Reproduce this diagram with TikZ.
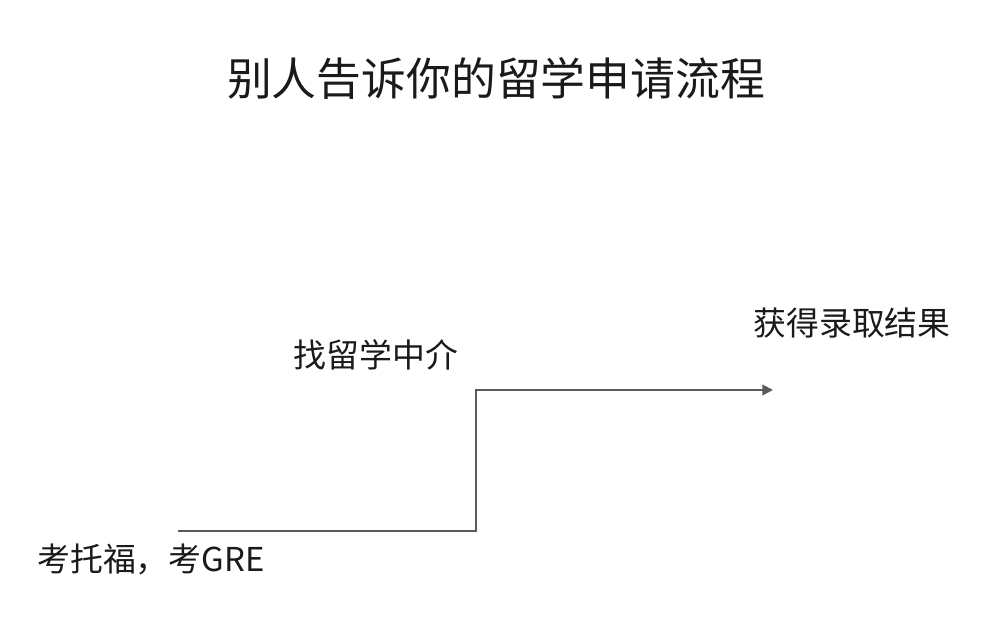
\documentclass[tikz,border=0pt]{standalone}
\usepackage{fontspec}
\setmainfont{Noto Sans CJK SC}
\usetikzlibrary{arrows.meta}
\definecolor{linegray}{HTML}{5A5A5A}
\definecolor{txt}{HTML}{1A1A1A}
\tikzset{
  title/.style={inner sep=0pt, text=txt, font=\fontsize{25.5}{30}\selectfont},
  label/.style={inner sep=0pt, text=txt, font=\fontsize{18.7}{22}\selectfont},
  flow/.style={draw=linegray, line width=1.1pt, -{Triangle[length=6pt,width=6pt]}}
}
\begin{document}
\begin{tikzpicture}
\useasboundingbox[fill=white] (0,0) rectangle (20,12.48);
\node[title] (t) at (9.92,10.92) {别人告诉你的留学申请流程};
\node[label] (zj) at (7.52,5.38) {找留学中介};
\node[label] (lq) at (17.04,6.02) {获得录取结果};
\node[label, anchor=west] (ks) at (0.74,1.30) {考托福，考GRE};
\coordinate (s) at (3.56,1.86);
\coordinate (k1) at (9.52,1.86);
\coordinate (k2) at (9.52,4.68);
\coordinate (e) at (15.46,4.68);
\draw[flow] (s) -- (k1) -- (k2) -- (e);
\end{tikzpicture}
\end{document}
